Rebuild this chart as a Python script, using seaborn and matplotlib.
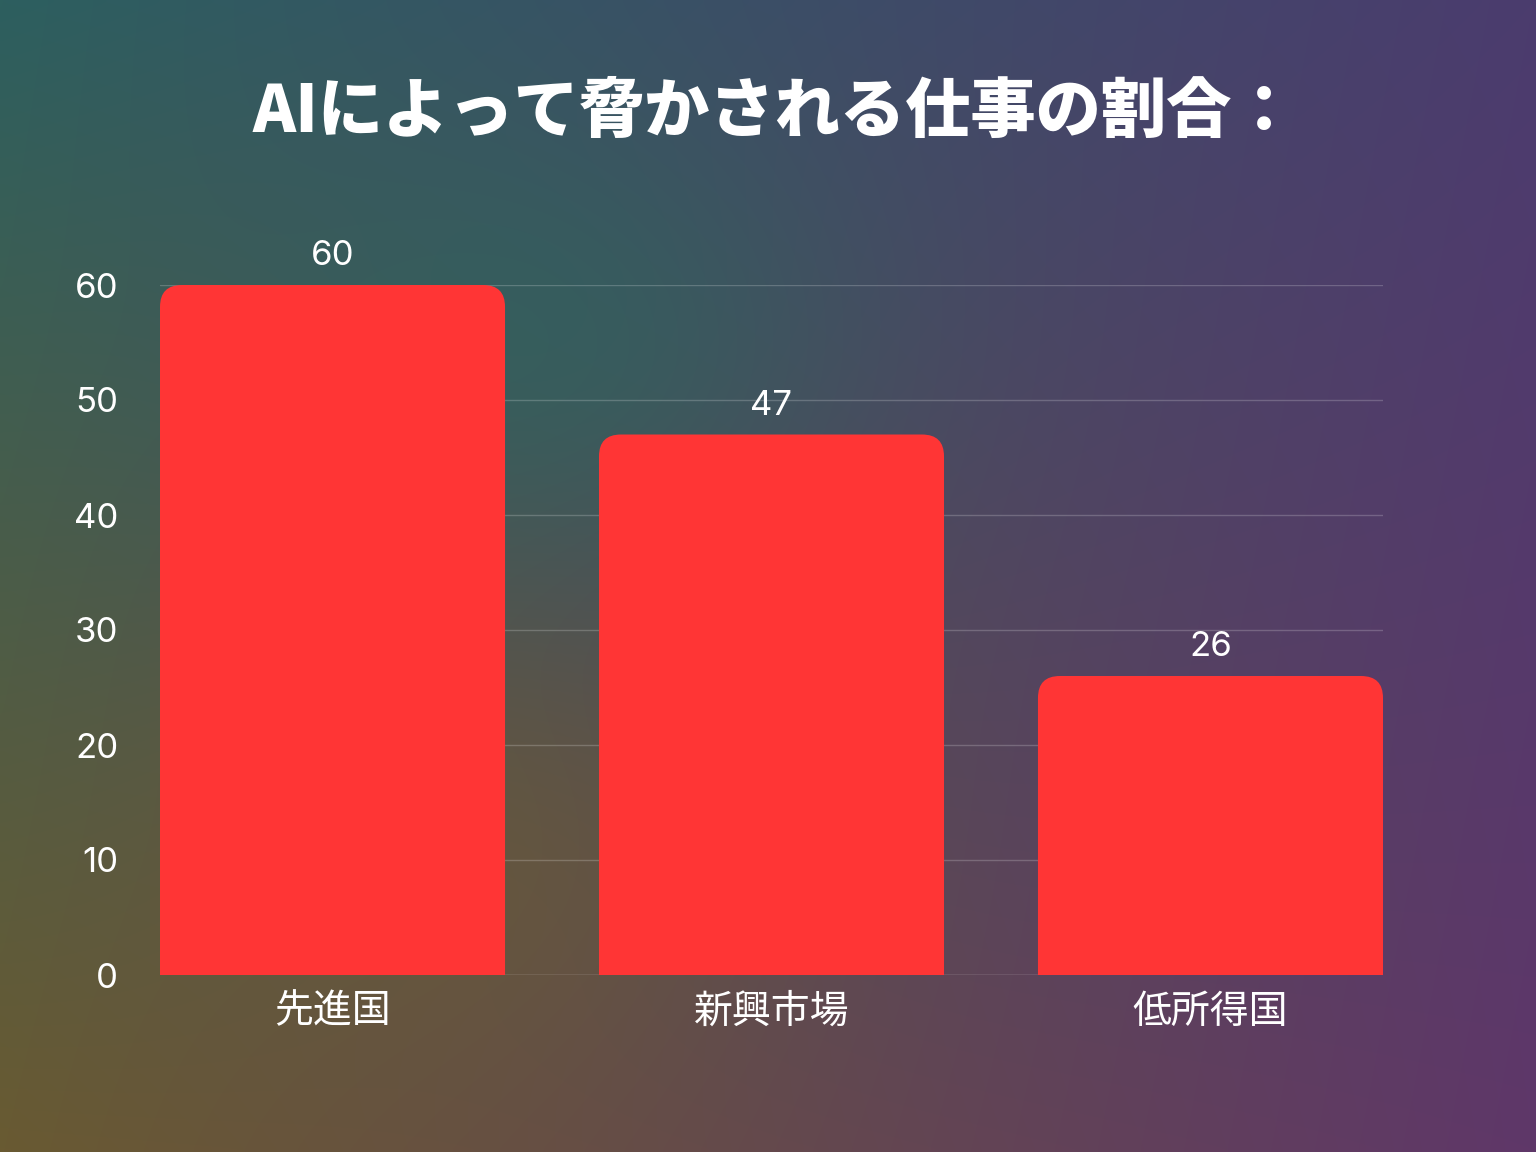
import numpy as np
import matplotlib
matplotlib.use("Agg")
import matplotlib.pyplot as plt
import seaborn as sns
import pandas as pd
from matplotlib.patches import FancyBboxPatch

categories = ["先進国", "新興市場", "低所得国"]
values = [60, 47, 26]
yticks = [0, 10, 20, 30, 40, 50, 60]

sns.set_theme(style="white")
plt.rcParams['font.family'] = ['Noto Sans CJK JP', 'DejaVu Sans']

fig = plt.figure(figsize=(15.36, 11.52), dpi=100)
bg = fig.add_axes([0, 0, 1, 1])
H, W = 230, 307
yy, xx = np.mgrid[0:1:H*1j, 0:1:W*1j]
TL = np.array([45, 95, 95]); TR = np.array([75, 60, 110])
BL = np.array([105, 90, 50]); BR = np.array([95, 55, 105])
img = (TL*(1-xx)[..., None]*(1-yy)[..., None] + TR*xx[..., None]*(1-yy)[..., None]
       + BL*(1-xx)[..., None]*yy[..., None] + BR*xx[..., None]*yy[..., None])
g = np.exp(-(((xx-0.35)/0.2)**2 + ((yy-0.3)/0.2)**2))
img = img*(1-0.5*g[..., None]) + np.array([40, 105, 95])*0.5*g[..., None]
g2 = np.exp(-(((xx-0.3)/0.2)**2 + ((yy-0.75)/0.2)**2))
img = img*(1-0.4*g2[..., None]) + np.array([115, 95, 45])*0.4*g2[..., None]
bg.imshow(img/255, aspect='auto', extent=[0, 1, 0, 1], interpolation='bicubic')
bg.axis('off')

L, R = 160/1536, 1383/1536
B, T = 1-975/1152, 1-285/1152
ax = fig.add_axes([L, B, R-L, T-B])
ax.patch.set_alpha(0)
df = pd.DataFrame({"cat": categories, "val": values})
sns.barplot(data=df, x="cat", y="val", ax=ax, color="#FF3535", width=0.786, saturation=1)
hw = 0.786/2
for p in list(ax.patches):
    p.set_visible(False)
for i, v in enumerate(values):
    ax.add_patch(FancyBboxPatch((i-hw, -5), 2*hw, v+5,
                                boxstyle="round,pad=0,rounding_size=0.05",
                                mutation_aspect=38, fc="#FF3535", ec="none", zorder=3, clip_on=True))
    ax.text(i, v+1.1, str(v), ha='center', va='bottom', color='white', fontsize=25,
            family=['Inter', 'DejaVu Sans'])
ax.set_xlim(-hw, 2+hw)
ax.set_ylim(0, 60)
ax.set_yticks(yticks)
ax.grid(axis='y', color='white', alpha=0.2, lw=1)
ax.set_axisbelow(True)
for s in ax.spines.values():
    s.set_visible(False)
ax.axhline(0, color='white', alpha=0.3, lw=1, zorder=1)
ax.tick_params(axis='y', colors='white', labelsize=25, length=0, pad=30)
ax.tick_params(axis='x', colors='white', labelsize=28, length=0, pad=12)
for t in ax.get_yticklabels():
    t.set_family(['Inter', 'DejaVu Sans'])
ax.set_xlabel(""); ax.set_ylabel("")
fig.text(775/1536, 1-112/1152, "AIによって脅かされる仕事の割合：", ha='center', va='center',
         color='white', fontsize=47, fontweight='heavy')
fig.savefig("out.png", dpi=100)
